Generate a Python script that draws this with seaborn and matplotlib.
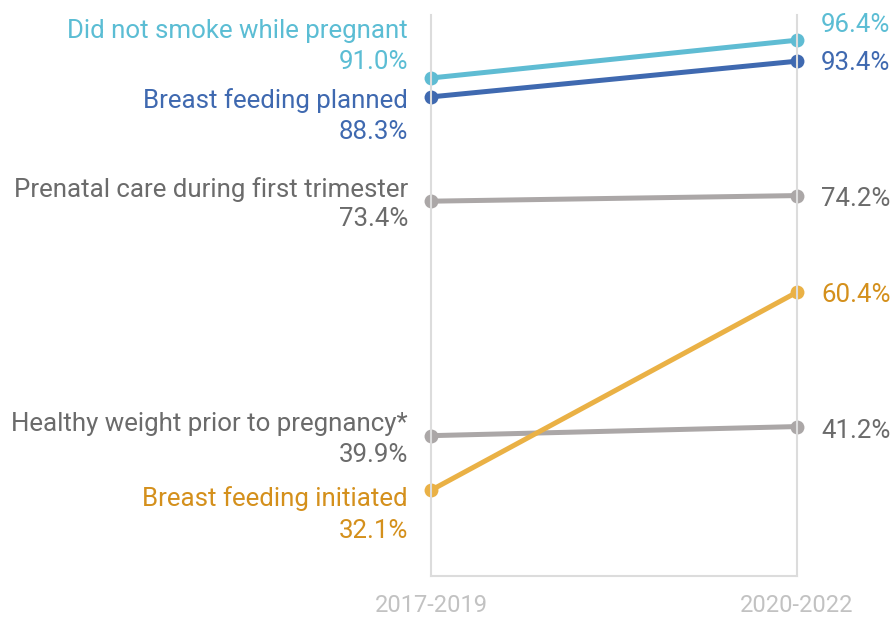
import pandas as pd
import seaborn as sns
import matplotlib.pyplot as plt

periods = ["2017-2019", "2020-2022"]
measures = ["Did not smoke while pregnant", "Breast feeding planned",
            "Prenatal care during first trimester", "Healthy weight prior to pregnancy*",
            "Breast feeding initiated"]
start = [91.0, 88.3, 73.4, 39.9, 32.1]
end = [96.4, 93.4, 74.2, 41.2, 60.4]

line_colors = ["#5fbcd3", "#3f69b0", "#aba7a7", "#aba7a7", "#eab145"]
text_colors = ["#5bbdd4", "#3f69b0", "#6b6b6b", "#6b6b6b", "#d4901c"]

# label baseline offsets in pixels relative to the point (name, value, right value)
left_name_dy = [40, -11, 4, 5, -16]
left_val_dy = [9, -42, -25, -26, -48]
right_dy = [8, -9, -10, -11, -10]

df = pd.DataFrame({
    "measure": measures * 2,
    "period": [0] * len(measures) + [1] * len(measures),
    "value": start + end,
})

sns.set_style("white")
plt.rcParams["font.family"] = ["Roboto", "DejaVu Sans"]

fig = plt.figure(figsize=(8.92, 6.18), dpi=100)
ax = fig.add_axes([431 / 892, 1 - 576 / 618, (797 - 431) / 892, (576 - 15) / 618])

sns.lineplot(data=df, x="period", y="value", hue="measure", hue_order=measures,
             palette=line_colors, marker="o", markersize=10, markeredgewidth=0,
             linewidth=3.6, legend=False, ax=ax)
for ln in ax.lines:
    ln.set_clip_on(False)
    ln.set_solid_capstyle("round")

ax.set_xlim(0, 1)
ax.set_ylim(19.85, 100)
ax.set_xticks([0, 1], periods)
ax.set_yticks([])
ax.set_xlabel("")
ax.set_ylabel("")
ax.tick_params(axis="x", length=0, pad=13, labelsize=17, labelcolor="#c2c2c2")

for side in ["left", "right", "bottom"]:
    ax.spines[side].set_color("#dcdcdc")
    ax.spines[side].set_linewidth(1.5)
ax.spines["top"].set_visible(False)

fs = 18.6
for i, m in enumerate(measures):
    ax.annotate(m, (0, start[i]), xytext=(-23, left_name_dy[i]), textcoords="offset pixels",
                ha="right", va="baseline", fontsize=fs, color=text_colors[i], annotation_clip=False)
    ax.annotate(f"{start[i]:.1f}%", (0, start[i]), xytext=(-23, left_val_dy[i]), textcoords="offset pixels",
                ha="right", va="baseline", fontsize=fs, color=text_colors[i], annotation_clip=False)
    ax.annotate(f"{end[i]:.1f}%", (1, end[i]), xytext=(24, right_dy[i]), textcoords="offset pixels",
                ha="left", va="baseline", fontsize=fs, color=text_colors[i], annotation_clip=False)

fig.savefig("out.png", dpi=100)
